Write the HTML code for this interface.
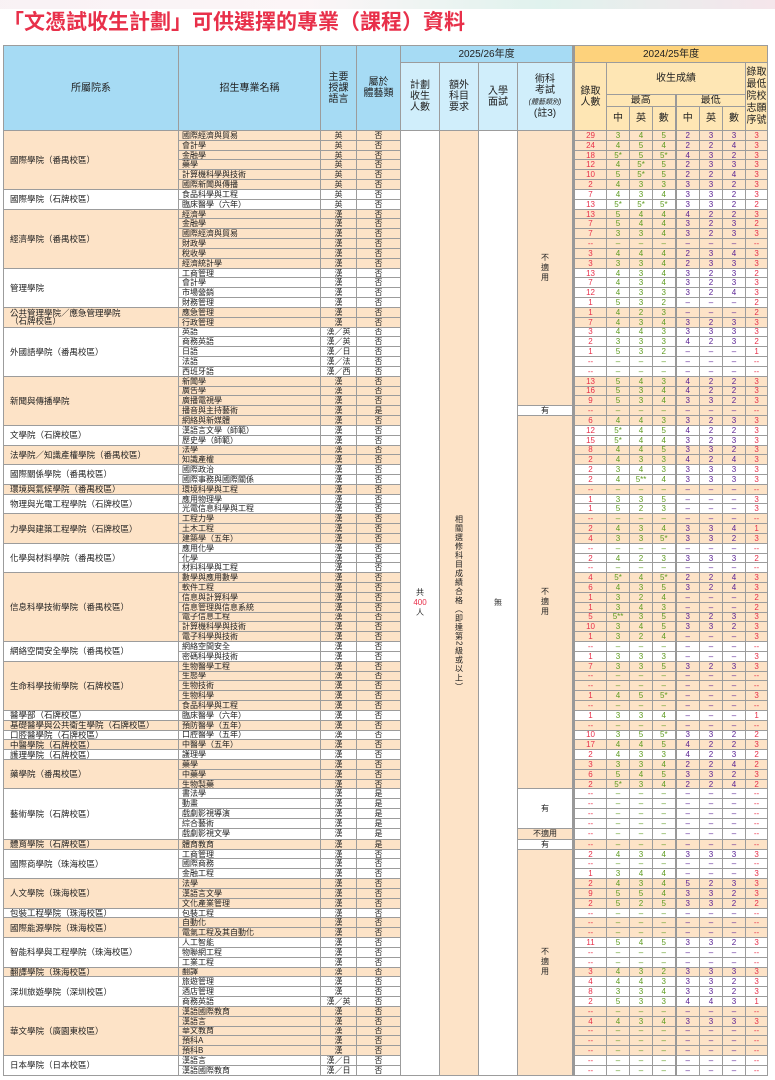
<!DOCTYPE html>
<html><head><meta charset="utf-8">
<style>
html,body{margin:0;padding:0;background:#fff;width:775px;height:1080px;overflow:hidden;font-family:"Liberation Sans","Noto Sans CJK TC",sans-serif;}
.banner{position:absolute;left:0;top:0;width:775px;height:9px;background:linear-gradient(90deg,#f7eef2 0%,#fbf3f5 40%,#d8efe9 70%,#f3dfe6 100%);opacity:.8}
h1{position:absolute;left:3px;top:9px;margin:0;font-size:21px;line-height:28px;color:#e8304a;font-weight:bold;letter-spacing:0px;white-space:nowrap}
table{position:absolute;left:3px;top:45px;width:764px;border-collapse:collapse;table-layout:fixed;}
td,th{border:1px solid #9c9c9c;padding:0;overflow:hidden;white-space:nowrap;text-align:center;vertical-align:middle;}
th{font-weight:normal;font-size:10px;line-height:11px;color:#222;}
th.b{background:#a6dbf4}th.bl{background:#d0eefb}th.y{background:#fdd27c}th.yl{background:#fee6b4}
tbody tr{height:9.83px}
tbody td{font-size:8px;line-height:7px;color:#222;}
tr.o td{background:#fde3c7}
td.c{text-align:left;padding-left:6px;font-size:8.5px;line-height:8px}
td.n{text-align:left;padding-left:3px}
td.m1{background:#fff!important;font-size:8px;line-height:10px}
td.m2{background:#fde3c7!important;font-size:8px;line-height:10px}
td.w{background:#fff!important}
td.m1 span{color:#e8304a}
.v{writing-mode:vertical-rl;margin:auto;font-size:8px;line-height:9px;letter-spacing:1px}
tbody td:nth-last-child(8){color:#e8304a;border-left:3px solid #999}
tbody td:nth-last-child(7),tbody td:nth-last-child(6),tbody td:nth-last-child(5){color:#5e9c20}
tbody td:nth-last-child(4),tbody td:nth-last-child(3),tbody td:nth-last-child(2){color:#5a2294}
tbody td:nth-last-child(1){color:#e8304a}
tbody td:nth-last-child(5){border-right:2px solid #999}
</style></head><body>
<div class="banner"></div>
<h1>「文憑試收生計劃」可供選擇的專業（課程）資料</h1>
<table>
<colgroup><col style="width:175px"><col style="width:142px"><col style="width:36px"><col style="width:44px"><col style="width:39px"><col style="width:39px"><col style="width:39px"><col style="width:56px"><col style="width:33px"><col style="width:23px"><col style="width:23px"><col style="width:23px"><col style="width:24px"><col style="width:23px"><col style="width:23px"><col style="width:22px"></colgroup>
<thead>
<tr style="height:17px"><th class="b" rowspan="4">所屬院系</th><th class="b" rowspan="4">招生專業名稱</th><th class="b" rowspan="4">主要<br>授課<br>語言</th><th class="b" rowspan="4">屬於<br>體藝類</th><th class="b" colspan="4">2025/26年度</th><th class="y" colspan="8" style="border-left:3px solid #999">2024/25年度</th></tr>
<tr style="height:32px"><th class="bl" rowspan="3">計劃<br>收生<br>人數</th><th class="bl" rowspan="3">額外<br>科目<br>要求</th><th class="bl" rowspan="3">入學<br>面試</th><th class="bl" rowspan="3">術科<br>考試<br><i style="font-size:7px">(體藝類別)</i><br>(註3)</th><th class="yl" rowspan="3" style="border-left:3px solid #999">錄取<br>人數</th><th class="yl" colspan="6">收生成績</th><th class="yl" rowspan="3" style="line-height:12px">錄取<br>最低<br>院校<br>志願<br>序號</th></tr>
<tr style="height:11px"><th class="yl" colspan="3" style="border-right:2px solid #999">最高</th><th class="yl" colspan="3">最低</th></tr>
<tr style="height:24px"><th class="yl">中</th><th class="yl">英</th><th class="yl" style="border-right:2px solid #999">數</th><th class="yl">中</th><th class="yl">英</th><th class="yl">數</th></tr>
</thead>
<tbody>
<tr class="o"><td rowspan="6" class="c">國際學院（番禺校區）</td><td class="n">國際經濟與貿易</td><td>英</td><td>否</td><td rowspan="96" class="m1">共<br><span>400</span><br>人</td><td rowspan="96" class="m2"><div class="v">相關選修科目成績合格（即達第2級或以上）</div></td><td rowspan="96" class="m1">無</td><td rowspan="28" class="m2">不<br>適<br>用</td><td>29</td><td>3</td><td>4</td><td>5</td><td>2</td><td>3</td><td>3</td><td>3</td></tr>
<tr class="o"><td class="n">會計學</td><td>英</td><td>否</td><td>24</td><td>4</td><td>5</td><td>4</td><td>2</td><td>2</td><td>4</td><td>3</td></tr>
<tr class="o"><td class="n">金融學</td><td>英</td><td>否</td><td>18</td><td>5*</td><td>5</td><td>5*</td><td>4</td><td>3</td><td>2</td><td>3</td></tr>
<tr class="o"><td class="n">藥學</td><td>英</td><td>否</td><td>12</td><td>4</td><td>5*</td><td>5</td><td>2</td><td>3</td><td>3</td><td>3</td></tr>
<tr class="o"><td class="n">計算機科學與技術</td><td>英</td><td>否</td><td>10</td><td>5</td><td>5*</td><td>5</td><td>2</td><td>2</td><td>4</td><td>3</td></tr>
<tr class="o"><td class="n">國際新聞與傳播</td><td>英</td><td>否</td><td>2</td><td>4</td><td>3</td><td>3</td><td>3</td><td>3</td><td>2</td><td>3</td></tr>
<tr><td rowspan="2" class="c">國際學院（石牌校區）</td><td class="n">食品科學與工程</td><td>英</td><td>否</td><td>7</td><td>4</td><td>3</td><td>4</td><td>3</td><td>3</td><td>2</td><td>3</td></tr>
<tr><td class="n">臨床醫學（六年）</td><td>英</td><td>否</td><td>13</td><td>5*</td><td>5*</td><td>5*</td><td>3</td><td>3</td><td>2</td><td>2</td></tr>
<tr class="o"><td rowspan="6" class="c">經濟學院（番禺校區）</td><td class="n">經濟學</td><td>漢</td><td>否</td><td>13</td><td>5</td><td>4</td><td>4</td><td>4</td><td>2</td><td>2</td><td>3</td></tr>
<tr class="o"><td class="n">金融學</td><td>漢</td><td>否</td><td>7</td><td>5</td><td>4</td><td>4</td><td>3</td><td>2</td><td>3</td><td>2</td></tr>
<tr class="o"><td class="n">國際經濟與貿易</td><td>漢</td><td>否</td><td>7</td><td>3</td><td>3</td><td>4</td><td>3</td><td>2</td><td>3</td><td>3</td></tr>
<tr class="o"><td class="n">財政學</td><td>漢</td><td>否</td><td>--</td><td>–</td><td>–</td><td>–</td><td>–</td><td>–</td><td>–</td><td>--</td></tr>
<tr class="o"><td class="n">稅收學</td><td>漢</td><td>否</td><td>3</td><td>4</td><td>4</td><td>4</td><td>2</td><td>3</td><td>4</td><td>3</td></tr>
<tr class="o"><td class="n">經濟統計學</td><td>漢</td><td>否</td><td>3</td><td>3</td><td>3</td><td>4</td><td>2</td><td>3</td><td>3</td><td>3</td></tr>
<tr><td rowspan="4" class="c">管理學院</td><td class="n">工商管理</td><td>漢</td><td>否</td><td>13</td><td>4</td><td>3</td><td>4</td><td>3</td><td>2</td><td>3</td><td>2</td></tr>
<tr><td class="n">會計學</td><td>漢</td><td>否</td><td>7</td><td>4</td><td>3</td><td>4</td><td>3</td><td>2</td><td>3</td><td>3</td></tr>
<tr><td class="n">市場營銷</td><td>漢</td><td>否</td><td>12</td><td>4</td><td>3</td><td>3</td><td>3</td><td>2</td><td>4</td><td>3</td></tr>
<tr><td class="n">財務管理</td><td>漢</td><td>否</td><td>1</td><td>5</td><td>3</td><td>2</td><td>–</td><td>–</td><td>–</td><td>2</td></tr>
<tr class="o"><td rowspan="2" class="c">公共管理學院／應急管理學院<br>（石牌校區）</td><td class="n">應急管理</td><td>漢</td><td>否</td><td>1</td><td>4</td><td>2</td><td>3</td><td>–</td><td>–</td><td>–</td><td>2</td></tr>
<tr class="o"><td class="n">行政管理</td><td>漢</td><td>否</td><td>7</td><td>4</td><td>3</td><td>4</td><td>3</td><td>2</td><td>3</td><td>3</td></tr>
<tr><td rowspan="5" class="c">外國語學院（番禺校區）</td><td class="n">英語</td><td>漢／英</td><td>否</td><td>3</td><td>4</td><td>4</td><td>3</td><td>3</td><td>3</td><td>3</td><td>3</td></tr>
<tr><td class="n">商務英語</td><td>漢／英</td><td>否</td><td>2</td><td>3</td><td>3</td><td>3</td><td>4</td><td>2</td><td>3</td><td>2</td></tr>
<tr><td class="n">日語</td><td>漢／日</td><td>否</td><td>1</td><td>5</td><td>3</td><td>2</td><td>–</td><td>–</td><td>–</td><td>1</td></tr>
<tr><td class="n">法語</td><td>漢／法</td><td>否</td><td>--</td><td>–</td><td>–</td><td>–</td><td>–</td><td>–</td><td>–</td><td>--</td></tr>
<tr><td class="n">西班牙語</td><td>漢／西</td><td>否</td><td>--</td><td>–</td><td>–</td><td>–</td><td>–</td><td>–</td><td>–</td><td>--</td></tr>
<tr class="o"><td rowspan="5" class="c">新聞與傳播學院</td><td class="n">新聞學</td><td>漢</td><td>否</td><td>13</td><td>5</td><td>4</td><td>3</td><td>4</td><td>2</td><td>2</td><td>3</td></tr>
<tr class="o"><td class="n">廣告學</td><td>漢</td><td>否</td><td>16</td><td>5</td><td>3</td><td>4</td><td>4</td><td>2</td><td>2</td><td>3</td></tr>
<tr class="o"><td class="n">廣播電視學</td><td>漢</td><td>否</td><td>9</td><td>5</td><td>3</td><td>4</td><td>3</td><td>3</td><td>2</td><td>3</td></tr>
<tr class="o"><td class="n">播音與主持藝術</td><td>漢</td><td>是</td><td class="w">有</td><td>--</td><td>–</td><td>–</td><td>–</td><td>–</td><td>–</td><td>–</td><td>--</td></tr>
<tr class="o"><td class="n">網絡與新媒體</td><td>漢</td><td>否</td><td rowspan="38" class="m2">不<br>適<br>用</td><td>6</td><td>4</td><td>4</td><td>3</td><td>3</td><td>2</td><td>3</td><td>3</td></tr>
<tr><td rowspan="2" class="c">文學院（石牌校區）</td><td class="n">漢語言文學（師範）</td><td>漢</td><td>否</td><td>12</td><td>5*</td><td>4</td><td>5</td><td>4</td><td>2</td><td>2</td><td>3</td></tr>
<tr><td class="n">歷史學（師範）</td><td>漢</td><td>否</td><td>15</td><td>5*</td><td>4</td><td>4</td><td>3</td><td>2</td><td>3</td><td>3</td></tr>
<tr class="o"><td rowspan="2" class="c">法學院／知識產權學院（番禺校區）</td><td class="n">法學</td><td>漢</td><td>否</td><td>8</td><td>4</td><td>4</td><td>5</td><td>3</td><td>3</td><td>2</td><td>3</td></tr>
<tr class="o"><td class="n">知識產權</td><td>漢</td><td>否</td><td>2</td><td>4</td><td>3</td><td>3</td><td>4</td><td>2</td><td>4</td><td>3</td></tr>
<tr><td rowspan="2" class="c">國際關係學院（番禺校區）</td><td class="n">國際政治</td><td>漢</td><td>否</td><td>2</td><td>3</td><td>4</td><td>3</td><td>3</td><td>3</td><td>3</td><td>3</td></tr>
<tr><td class="n">國際事務與國際關係</td><td>漢</td><td>否</td><td>2</td><td>4</td><td>5**</td><td>4</td><td>3</td><td>3</td><td>3</td><td>3</td></tr>
<tr class="o"><td class="c">環境與氣候學院（番禺校區）</td><td class="n">環境科學與工程</td><td>漢</td><td>否</td><td>--</td><td>–</td><td>–</td><td>–</td><td>–</td><td>–</td><td>–</td><td>--</td></tr>
<tr><td rowspan="2" class="c">物理與光電工程學院（石牌校區）</td><td class="n">應用物理學</td><td>漢</td><td>否</td><td>1</td><td>3</td><td>3</td><td>5</td><td>–</td><td>–</td><td>–</td><td>3</td></tr>
<tr><td class="n">光電信息科學與工程</td><td>漢</td><td>否</td><td>1</td><td>5</td><td>2</td><td>3</td><td>–</td><td>–</td><td>–</td><td>3</td></tr>
<tr class="o"><td rowspan="3" class="c">力學與建築工程學院（石牌校區）</td><td class="n">工程力學</td><td>漢</td><td>否</td><td>--</td><td>–</td><td>–</td><td>–</td><td>–</td><td>–</td><td>–</td><td>--</td></tr>
<tr class="o"><td class="n">土木工程</td><td>漢</td><td>否</td><td>2</td><td>4</td><td>3</td><td>4</td><td>3</td><td>3</td><td>4</td><td>1</td></tr>
<tr class="o"><td class="n">建築學（五年）</td><td>漢</td><td>否</td><td>4</td><td>3</td><td>3</td><td>5*</td><td>3</td><td>3</td><td>2</td><td>3</td></tr>
<tr><td rowspan="3" class="c">化學與材料學院（番禺校區）</td><td class="n">應用化學</td><td>漢</td><td>否</td><td>--</td><td>–</td><td>–</td><td>–</td><td>–</td><td>–</td><td>–</td><td>--</td></tr>
<tr><td class="n">化學</td><td>漢</td><td>否</td><td>2</td><td>4</td><td>2</td><td>3</td><td>3</td><td>3</td><td>3</td><td>2</td></tr>
<tr><td class="n">材料科學與工程</td><td>漢</td><td>否</td><td>--</td><td>–</td><td>–</td><td>–</td><td>–</td><td>–</td><td>–</td><td>--</td></tr>
<tr class="o"><td rowspan="7" class="c">信息科學技術學院（番禺校區）</td><td class="n">數學與應用數學</td><td>漢</td><td>否</td><td>4</td><td>5*</td><td>4</td><td>5*</td><td>2</td><td>2</td><td>4</td><td>3</td></tr>
<tr class="o"><td class="n">軟件工程</td><td>漢</td><td>否</td><td>6</td><td>4</td><td>3</td><td>5</td><td>3</td><td>2</td><td>4</td><td>3</td></tr>
<tr class="o"><td class="n">信息與計算科學</td><td>漢</td><td>否</td><td>1</td><td>3</td><td>2</td><td>4</td><td>–</td><td>–</td><td>–</td><td>2</td></tr>
<tr class="o"><td class="n">信息管理與信息系統</td><td>漢</td><td>否</td><td>1</td><td>3</td><td>4</td><td>3</td><td>–</td><td>–</td><td>–</td><td>2</td></tr>
<tr class="o"><td class="n">電子信息工程</td><td>漢</td><td>否</td><td>5</td><td>5**</td><td>3</td><td>5</td><td>3</td><td>2</td><td>3</td><td>3</td></tr>
<tr class="o"><td class="n">計算機科學與技術</td><td>漢</td><td>否</td><td>10</td><td>3</td><td>4</td><td>5</td><td>3</td><td>3</td><td>2</td><td>3</td></tr>
<tr class="o"><td class="n">電子科學與技術</td><td>漢</td><td>否</td><td>1</td><td>3</td><td>2</td><td>4</td><td>–</td><td>–</td><td>–</td><td>3</td></tr>
<tr><td rowspan="2" class="c">網絡空間安全學院（番禺校區）</td><td class="n">網絡空間安全</td><td>漢</td><td>否</td><td>--</td><td>–</td><td>–</td><td>–</td><td>–</td><td>–</td><td>–</td><td>--</td></tr>
<tr><td class="n">密碼科學與技術</td><td>漢</td><td>否</td><td>1</td><td>3</td><td>3</td><td>3</td><td>–</td><td>–</td><td>–</td><td>3</td></tr>
<tr class="o"><td rowspan="5" class="c">生命科學技術學院（石牌校區）</td><td class="n">生物醫學工程</td><td>漢</td><td>否</td><td>7</td><td>3</td><td>3</td><td>5</td><td>3</td><td>2</td><td>3</td><td>3</td></tr>
<tr class="o"><td class="n">生態學</td><td>漢</td><td>否</td><td>--</td><td>–</td><td>–</td><td>–</td><td>–</td><td>–</td><td>–</td><td>--</td></tr>
<tr class="o"><td class="n">生物技術</td><td>漢</td><td>否</td><td>--</td><td>–</td><td>–</td><td>–</td><td>–</td><td>–</td><td>–</td><td>--</td></tr>
<tr class="o"><td class="n">生物科學</td><td>漢</td><td>否</td><td>1</td><td>4</td><td>5</td><td>5*</td><td>–</td><td>–</td><td>–</td><td>3</td></tr>
<tr class="o"><td class="n">食品科學與工程</td><td>漢</td><td>否</td><td>--</td><td>–</td><td>–</td><td>–</td><td>–</td><td>–</td><td>–</td><td>--</td></tr>
<tr><td class="c">醫學部（石牌校區）</td><td class="n">臨床醫學（六年）</td><td>漢</td><td>否</td><td>1</td><td>3</td><td>3</td><td>4</td><td>–</td><td>–</td><td>–</td><td>1</td></tr>
<tr class="o"><td class="c">基礎醫學與公共衛生學院（石牌校區）</td><td class="n">預防醫學（五年）</td><td>漢</td><td>否</td><td>--</td><td>–</td><td>–</td><td>–</td><td>–</td><td>–</td><td>–</td><td>--</td></tr>
<tr><td class="c">口腔醫學院（石牌校區）</td><td class="n">口腔醫學（五年）</td><td>漢</td><td>否</td><td>10</td><td>3</td><td>5</td><td>5*</td><td>3</td><td>3</td><td>2</td><td>2</td></tr>
<tr class="o"><td class="c">中醫學院（石牌校區）</td><td class="n">中醫學（五年）</td><td>漢</td><td>否</td><td>17</td><td>4</td><td>4</td><td>5</td><td>4</td><td>2</td><td>2</td><td>3</td></tr>
<tr><td class="c">護理學院（石牌校區）</td><td class="n">護理學</td><td>漢</td><td>否</td><td>2</td><td>4</td><td>3</td><td>3</td><td>4</td><td>2</td><td>3</td><td>2</td></tr>
<tr class="o"><td rowspan="3" class="c">藥學院（番禺校區）</td><td class="n">藥學</td><td>漢</td><td>否</td><td>3</td><td>3</td><td>3</td><td>4</td><td>2</td><td>2</td><td>4</td><td>2</td></tr>
<tr class="o"><td class="n">中藥學</td><td>漢</td><td>否</td><td>6</td><td>5</td><td>4</td><td>5</td><td>3</td><td>3</td><td>2</td><td>3</td></tr>
<tr class="o"><td class="n">生物製藥</td><td>漢</td><td>否</td><td>2</td><td>5*</td><td>3</td><td>4</td><td>2</td><td>2</td><td>4</td><td>2</td></tr>
<tr><td rowspan="5" class="c">藝術學院（石牌校區）</td><td class="n">書法學</td><td>漢</td><td>是</td><td rowspan="4" class="m1">有</td><td>--</td><td>–</td><td>–</td><td>–</td><td>–</td><td>–</td><td>–</td><td>--</td></tr>
<tr><td class="n">動畫</td><td>漢</td><td>是</td><td>--</td><td>–</td><td>–</td><td>–</td><td>–</td><td>–</td><td>–</td><td>--</td></tr>
<tr><td class="n">戲劇影視導演</td><td>漢</td><td>是</td><td>--</td><td>–</td><td>–</td><td>–</td><td>–</td><td>–</td><td>–</td><td>--</td></tr>
<tr><td class="n">綜合藝術</td><td>漢</td><td>是</td><td>--</td><td>–</td><td>–</td><td>–</td><td>–</td><td>–</td><td>–</td><td>--</td></tr>
<tr><td class="n">戲劇影視文學</td><td>漢</td><td>是</td><td class="m2">不適用</td><td>--</td><td>–</td><td>–</td><td>–</td><td>–</td><td>–</td><td>–</td><td>--</td></tr>
<tr class="o"><td class="c">體育學院（石牌校區）</td><td class="n">體育教育</td><td>漢</td><td>是</td><td class="w">有</td><td>--</td><td>–</td><td>–</td><td>–</td><td>–</td><td>–</td><td>–</td><td>--</td></tr>
<tr><td rowspan="3" class="c">國際商學院（珠海校區）</td><td class="n">工商管理</td><td>漢</td><td>否</td><td rowspan="23" class="m2">不<br>適<br>用</td><td>2</td><td>4</td><td>3</td><td>4</td><td>3</td><td>3</td><td>3</td><td>3</td></tr>
<tr><td class="n">國際商務</td><td>漢</td><td>否</td><td>--</td><td>–</td><td>–</td><td>–</td><td>–</td><td>–</td><td>–</td><td>--</td></tr>
<tr><td class="n">金融工程</td><td>漢</td><td>否</td><td>1</td><td>3</td><td>4</td><td>4</td><td>–</td><td>–</td><td>–</td><td>3</td></tr>
<tr class="o"><td rowspan="3" class="c">人文學院（珠海校區）</td><td class="n">法學</td><td>漢</td><td>否</td><td>2</td><td>4</td><td>3</td><td>4</td><td>5</td><td>2</td><td>3</td><td>3</td></tr>
<tr class="o"><td class="n">漢語言文學</td><td>漢</td><td>否</td><td>9</td><td>5</td><td>5</td><td>4</td><td>3</td><td>3</td><td>2</td><td>3</td></tr>
<tr class="o"><td class="n">文化產業管理</td><td>漢</td><td>否</td><td>2</td><td>5</td><td>2</td><td>5</td><td>3</td><td>3</td><td>2</td><td>2</td></tr>
<tr><td class="c">包裝工程學院（珠海校區）</td><td class="n">包裝工程</td><td>漢</td><td>否</td><td>--</td><td>–</td><td>–</td><td>–</td><td>–</td><td>–</td><td>–</td><td>--</td></tr>
<tr class="o"><td rowspan="2" class="c">國際能源學院（珠海校區）</td><td class="n">自動化</td><td>漢</td><td>否</td><td>--</td><td>–</td><td>–</td><td>–</td><td>–</td><td>–</td><td>–</td><td>--</td></tr>
<tr class="o"><td class="n">電氣工程及其自動化</td><td>漢</td><td>否</td><td>--</td><td>–</td><td>–</td><td>–</td><td>–</td><td>–</td><td>–</td><td>--</td></tr>
<tr><td rowspan="3" class="c">智能科學與工程學院（珠海校區）</td><td class="n">人工智能</td><td>漢</td><td>否</td><td>11</td><td>5</td><td>4</td><td>5</td><td>3</td><td>3</td><td>2</td><td>3</td></tr>
<tr><td class="n">物聯網工程</td><td>漢</td><td>否</td><td>--</td><td>–</td><td>–</td><td>–</td><td>–</td><td>–</td><td>–</td><td>--</td></tr>
<tr><td class="n">工業工程</td><td>漢</td><td>否</td><td>--</td><td>–</td><td>–</td><td>–</td><td>–</td><td>–</td><td>–</td><td>--</td></tr>
<tr class="o"><td class="c">翻譯學院（珠海校區）</td><td class="n">翻譯</td><td>漢</td><td>否</td><td>3</td><td>4</td><td>3</td><td>2</td><td>3</td><td>3</td><td>3</td><td>3</td></tr>
<tr><td rowspan="3" class="c">深圳旅遊學院（深圳校區）</td><td class="n">旅遊管理</td><td>漢</td><td>否</td><td>4</td><td>4</td><td>4</td><td>3</td><td>3</td><td>3</td><td>2</td><td>3</td></tr>
<tr><td class="n">酒店管理</td><td>漢</td><td>否</td><td>8</td><td>3</td><td>3</td><td>4</td><td>3</td><td>3</td><td>2</td><td>3</td></tr>
<tr><td class="n">商務英語</td><td>漢／英</td><td>否</td><td>2</td><td>5</td><td>3</td><td>3</td><td>4</td><td>4</td><td>3</td><td>1</td></tr>
<tr class="o"><td rowspan="5" class="c">華文學院（廣園東校區）</td><td class="n">漢語國際教育</td><td>漢</td><td>否</td><td>--</td><td>–</td><td>–</td><td>–</td><td>–</td><td>–</td><td>–</td><td>--</td></tr>
<tr class="o"><td class="n">漢語言</td><td>漢</td><td>否</td><td>4</td><td>4</td><td>3</td><td>4</td><td>3</td><td>3</td><td>3</td><td>3</td></tr>
<tr class="o"><td class="n">華文教育</td><td>漢</td><td>否</td><td>--</td><td>–</td><td>–</td><td>–</td><td>–</td><td>–</td><td>–</td><td>--</td></tr>
<tr class="o"><td class="n">預科A</td><td>漢</td><td>否</td><td>--</td><td>–</td><td>–</td><td>–</td><td>–</td><td>–</td><td>–</td><td>--</td></tr>
<tr class="o"><td class="n">預科B</td><td>漢</td><td>否</td><td>--</td><td>–</td><td>–</td><td>–</td><td>–</td><td>–</td><td>–</td><td>--</td></tr>
<tr><td rowspan="2" class="c">日本學院（日本校區）</td><td class="n">漢語言</td><td>漢／日</td><td>否</td><td>--</td><td>–</td><td>–</td><td>–</td><td>–</td><td>–</td><td>–</td><td>--</td></tr>
<tr><td class="n">漢語國際教育</td><td>漢／日</td><td>否</td><td>--</td><td>–</td><td>–</td><td>–</td><td>–</td><td>–</td><td>–</td><td>--</td></tr>
</tbody>
</table>
</body></html>
